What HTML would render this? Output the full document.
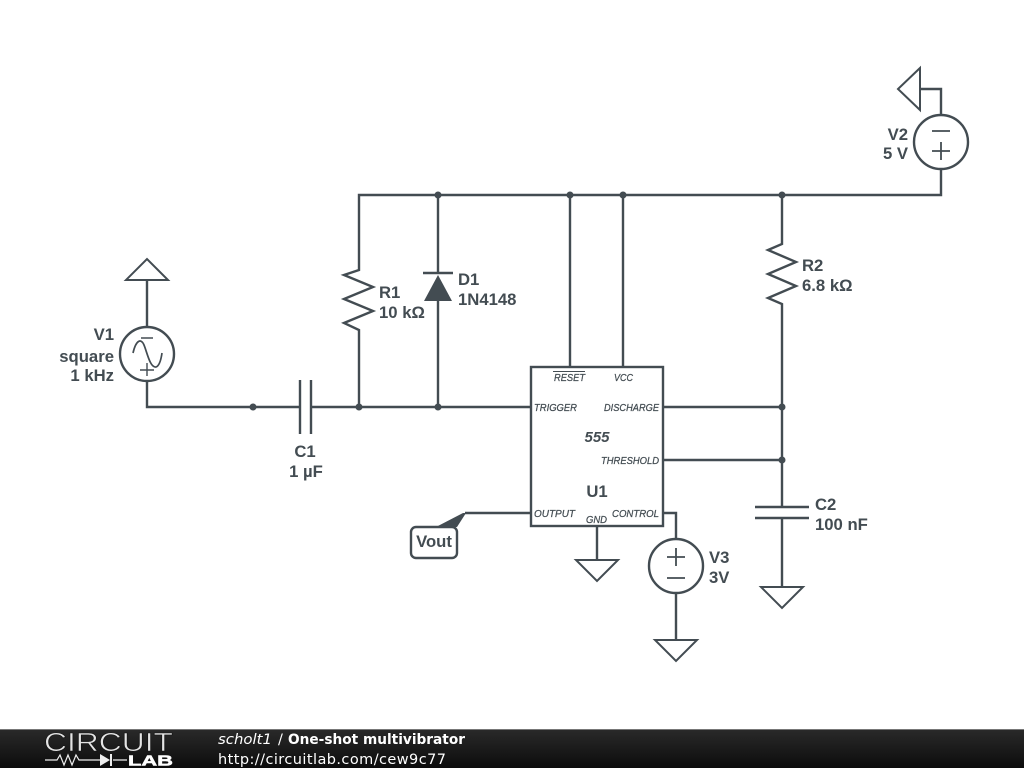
<!DOCTYPE html>
<html><head><meta charset="utf-8"><style>
html,body{margin:0;padding:0;background:#fff;width:1024px;height:768px;overflow:hidden}
svg{display:block}
.w{fill:none;stroke:#434c52;stroke-width:2.4}
.t{font-family:"Liberation Sans",sans-serif;font-weight:bold;font-size:16.7px;fill:#434c52}
.p{font-family:"Liberation Sans",sans-serif;font-style:italic;font-size:10.5px;fill:#434c52;stroke:#434c52;stroke-width:.25}
.f{font-family:"DejaVu Sans",sans-serif;font-size:14.5px;fill:#fff}
</style></head><body>
<svg width="1024" height="768" viewBox="0 0 1024 768" xmlns="http://www.w3.org/2000/svg">
<defs><linearGradient id="g" x1="0" y1="0" x2="0" y2="1"><stop offset="0" stop-color="#2a2a2a"/><stop offset="1" stop-color="#0c0c0c"/></linearGradient></defs>
<g class="w">
<path d="M147 280V327M147 381V407H300M311 407H531"/>
<path d="M126 280H168L147 259Z" stroke-width="2"/>
<circle cx="147" cy="354" r="27"/>
<path d="M141 338H153M140 370H154M147 363V376" stroke-width="1.4"/>
<path d="M133 353C136 340 141 338 144 345C147 352 150 368 156 367C159 366 161 360 162 353" stroke-width="1.7"/>
<path d="M300 380V434M311 380V434"/>
<path d="M359 407V330L344 323 373 311 344 299 373 287 344 275 359 270V195H941V169"/>
<path d="M941 115V89H920"/>
<path d="M920 68V110L898 89Z" stroke-width="2"/>
<circle cx="941" cy="142" r="27"/>
<path d="M932 131H950M932 151H950M941 142V160" stroke-width="1.8"/>
<path d="M438 195V273M438 301V407M423 273H453"/>
<path d="M570 195V367M623 195V367"/>
<path d="M782 195V244L768 250 796 262 768 274 796 286 768 298 782 304V507M755 507H809M755 518H809M782 518V587"/>
<path d="M761 587H803L782 608Z" stroke-width="2"/>
<rect x="531" y="367" width="132" height="159"/>
<path d="M663 407H782M663 460H782"/>
<path d="M465 513H531M663 513H676V540"/>
<circle cx="676" cy="566" r="27"/>
<path d="M667 557H685M676 548V566M667 578H685" stroke-width="1.8"/>
<path d="M676 593V640"/>
<path d="M655 640H697L676 661Z" stroke-width="2"/>
<path d="M597 526V560"/>
<path d="M576 560H618L597 581Z" stroke-width="2"/>
<rect x="411" y="527" width="46" height="31" rx="5"/>
</g>
<path d="M424 301H452L438 275Z" fill="#434c52"/>
<path d="M436 527L463 513H466L457 527Z" fill="#434c52"/>
<path d="M553 371.500H585" stroke="#434c52" stroke-width="1"/>
<g fill="#434c52">
<circle cx="253" cy="407" r="3.500"/><circle cx="359" cy="407" r="3.500"/><circle cx="438" cy="407" r="3.500"/>
<circle cx="438" cy="195" r="3.500"/><circle cx="570" cy="195" r="3.500"/><circle cx="623" cy="195" r="3.500"/><circle cx="782" cy="195" r="3.500"/>
<circle cx="782" cy="407" r="3.500"/><circle cx="782" cy="460" r="3.500"/>
</g>
<g class="t">
<text x="114" y="340" text-anchor="end">V1</text>
<text x="114" y="362" text-anchor="end">square</text>
<text x="114" y="381" text-anchor="end">1 kHz</text>
<text x="305" y="457" text-anchor="middle">C1</text>
<text x="306" y="477" text-anchor="middle">1 µF</text>
<text x="379" y="298">R1</text>
<text x="379" y="318">10 kΩ</text>
<text x="458" y="285">D1</text>
<text x="458" y="305">1N4148</text>
<text x="908" y="140" text-anchor="end">V2</text>
<text x="908" y="159" text-anchor="end">5 V</text>
<text x="802" y="271">R2</text>
<text x="802" y="291">6.8 kΩ</text>
<text x="815" y="510">C2</text>
<text x="815" y="530">100 nF</text>
<text x="709" y="563">V3</text>
<text x="709" y="583">3V</text>
<text x="597" y="497" text-anchor="middle">U1</text>
<text x="597" y="442" text-anchor="middle" font-style="italic" font-size="15">555</text>
<text x="434" y="547" text-anchor="middle">Vout</text>
</g>
<g class="p">
<text x="554" y="381" textLength="31" lengthAdjust="spacingAndGlyphs">RESET</text>
<text x="614" y="381" textLength="19" lengthAdjust="spacingAndGlyphs">VCC</text>
<text x="534" y="411" textLength="43" lengthAdjust="spacingAndGlyphs">TRIGGER</text>
<text x="604" y="411" textLength="55" lengthAdjust="spacingAndGlyphs">DISCHARGE</text>
<text x="601" y="464" textLength="58" lengthAdjust="spacingAndGlyphs">THRESHOLD</text>
<text x="534" y="517" textLength="41" lengthAdjust="spacingAndGlyphs">OUTPUT</text>
<text x="586" y="523" textLength="21" lengthAdjust="spacingAndGlyphs">GND</text>
<text x="612" y="517" textLength="47" lengthAdjust="spacingAndGlyphs">CONTROL</text>
</g>
<rect x="0" y="729" width="1024" height="39" fill="url(#g)"/>
<rect x="0" y="729" width="1024" height="1" fill="#777"/>
<text x="44" y="751" font-family="Liberation Sans,sans-serif" font-size="25.500" fill="#e4e4e4" textLength="129" lengthAdjust="spacingAndGlyphs" stroke="#141414" stroke-width=".6">CIRCUIT</text>
<path d="M45 760H57L60 755 64 765 68 755 72 765 76 755 79 760H100M113 760H127" fill="none" stroke="#eee" stroke-width="1.2"/>
<path d="M100 754V766L110 760Z M110 754H112V766H110Z" fill="#eee"/>
<text x="128" y="765.500" font-family="Liberation Sans,sans-serif" font-weight="bold" font-size="14.500" fill="#fff" stroke="#fff" stroke-width=".5" textLength="45" lengthAdjust="spacingAndGlyphs">LAB</text>
<text class="f" x="218" y="744" font-style="italic" textLength="54" lengthAdjust="spacingAndGlyphs">scholt1</text>
<text class="f" x="278" y="744">/</text>
<text class="f" x="288" y="744" font-weight="bold" textLength="177" lengthAdjust="spacingAndGlyphs">One-shot multivibrator</text>
<text class="f" x="218" y="764" textLength="228" lengthAdjust="spacing">http://circuitlab.com/cew9c77</text>
</svg>
</body></html>
